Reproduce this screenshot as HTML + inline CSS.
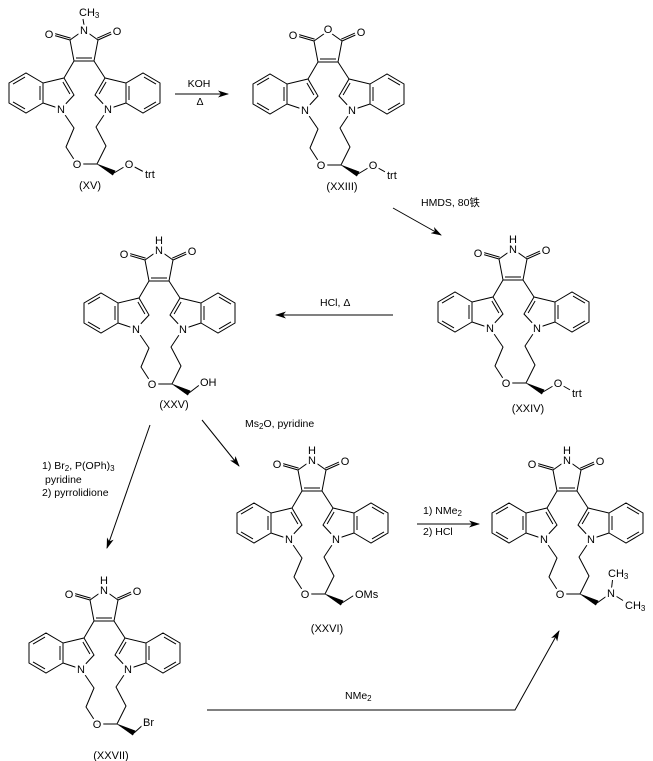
<!DOCTYPE html>
<html><head><meta charset="utf-8"><style>
html,body{margin:0;padding:0;background:#fff;}
svg{display:block;}
text{font-family:"Liberation Sans","Noto Sans CJK SC",sans-serif;font-size:11px;fill:#000;}
.a{text-anchor:middle;stroke:#fff;stroke-width:5px;paint-order:stroke;stroke-linejoin:round;}
.s{stroke:#fff;stroke-width:5px;paint-order:stroke;stroke-linejoin:round;}
.r{font-size:10.5px;}
</style></head><body>
<svg width="653" height="761" viewBox="0 0 653 761" xmlns="http://www.w3.org/2000/svg">
<defs>
<marker id="ah" markerWidth="11" markerHeight="7" refX="10" refY="3.5" orient="auto" markerUnits="userSpaceOnUse">
<path d="M0,0 L11,3.5 L0,7 L3,3.5 z" fill="#000"/>
</marker>
<g id="core" fill="none" stroke="#000" stroke-width="1">
<path d="M71,41 L85,31 L99,41 M71,41 L75,62 L95,62 L99,41 M77,59 L93,59
M71,41 L52,35.5 M71.6,39.1 L52.6,33.6 M99,41 L117,33 M98.2,39.2 L116.2,31.2
M75,62 L65,79 M95,62 L106,79
M65,79 L75,96 L62,110 L44,104 L44,84 Z M63.9,83 L70.9,95
M44,84 L27,74 L10,84 L10,104 L27,114 L44,104 M26,78.1 L14,85.1 M41,87 L41,101 M26,109.9 L14,102.9
M106,79 L96,96 L109,110 L127,104 L127,84 Z M107.1,83 L100.1,95
M127,84 L144,74 L161,84 L161,104 L144,114 L127,104 M145,78.1 L157,85.1 M130,87 L130,101 M145,109.9 L157,102.9
M62,110 L75,129 L67,148 L78,165 L98,165 M109,110 L97,128 L107,147 L98,165"/>
<polygon points="98,165 116.2,171.8 113.8,176.2" fill="#000" stroke="#000" stroke-width="0.5"/>
</g>
</defs>

<!-- (XV) -->
<g transform="translate(-1,-1)">
<use href="#core"/>
<path d="M85,26 L84,20 M115,174 L130,165 M130,165 L145,173" stroke="#000" fill="none"/>
<text x="80" y="17">CH<tspan font-size="8" dy="2">3</tspan></text>
<text class="a" x="85" y="35">N</text>
<text class="a" x="50" y="39">O</text>
<text class="a" x="118" y="36">O</text>
<text class="a" x="62" y="114">N</text>
<text class="a" x="109" y="114">N</text>
<text class="a" x="78" y="169">O</text>
<text class="a" x="130" y="169">O</text>
<text class="s" x="146" y="179">trt</text>
</g>
<text class="a" x="90" y="189">(XV)</text>

<!-- (XXIII) -->
<g transform="translate(243,0)">
<use href="#core"/>
<path d="M115,174 L130,165 M130,165 L144,173" stroke="#000" fill="none"/>
<text class="a" x="85" y="33">O</text>
<text class="a" x="50" y="39">O</text>
<text class="a" x="118" y="36">O</text>
<text class="a" x="62" y="114">N</text>
<text class="a" x="109" y="114">N</text>
<text class="a" x="78" y="169">O</text>
<text class="a" x="130" y="169">O</text>
<text class="s" x="144" y="179">trt</text>
</g>
<text class="a" x="342" y="190">(XXIII)</text>

<!-- (XXIV) -->
<g transform="translate(428,218)">
<use href="#core"/>
<path d="M115,174 L130,165 M130,165 L144,173" stroke="#000" fill="none"/>
<text class="a" x="85" y="25">H</text>
<text class="a" x="85" y="35">N</text>
<text class="a" x="50" y="39">O</text>
<text class="a" x="118" y="36">O</text>
<text class="a" x="62" y="114">N</text>
<text class="a" x="109" y="114">N</text>
<text class="a" x="78" y="169">O</text>
<text class="a" x="130" y="169">O</text>
<text class="s" x="144" y="179">trt</text>
</g>
<text class="a" x="528" y="412">(XXIV)</text>

<!-- (XXV) -->
<g transform="translate(74,219)">
<use href="#core"/>
<path d="M115,174 L128,164" stroke="#000" fill="none"/>
<text class="a" x="85" y="25">H</text>
<text class="a" x="85" y="35">N</text>
<text class="a" x="50" y="39">O</text>
<text class="a" x="118" y="36">O</text>
<text class="a" x="62" y="114">N</text>
<text class="a" x="109" y="114">N</text>
<text class="a" x="78" y="169">O</text>
<text class="s" x="126" y="167">OH</text>
</g>
<text class="a" x="174" y="408">(XXV)</text>

<!-- (XXVI) -->
<g transform="translate(227,429)">
<use href="#core"/>
<path d="M115,174 L129,165" stroke="#000" fill="none"/>
<text class="a" x="85" y="25">H</text>
<text class="a" x="85" y="35">N</text>
<text class="a" x="50" y="39">O</text>
<text class="a" x="118" y="36">O</text>
<text class="a" x="62" y="114">N</text>
<text class="a" x="109" y="114">N</text>
<text class="a" x="78" y="169">O</text>
<text class="s" x="128" y="169">OMs</text>
</g>
<text class="a" x="327" y="632">(XXVI)</text>

<!-- (XXVII) -->
<g transform="translate(19,559)">
<use href="#core"/>
<path d="M115,174 L126,164" stroke="#000" fill="none"/>
<text class="a" x="85" y="25">H</text>
<text class="a" x="85" y="35">N</text>
<text class="a" x="50" y="39">O</text>
<text class="a" x="118" y="36">O</text>
<text class="a" x="62" y="114">N</text>
<text class="a" x="109" y="114">N</text>
<text class="a" x="78" y="169">O</text>
<text class="s" x="124" y="167">Br</text>
</g>
<text class="a" x="111" y="759">(XXVII)</text>

<!-- final product -->
<g transform="translate(482,429)">
<use href="#core"/>
<path d="M115,174 L129,164 M129,164 L130.5,151 M129,164 L141,171.5" stroke="#000" fill="none"/>
<text class="a" x="85" y="25">H</text>
<text class="a" x="85" y="35">N</text>
<text class="a" x="50" y="39">O</text>
<text class="a" x="118" y="36">O</text>
<text class="a" x="62" y="114">N</text>
<text class="a" x="109" y="114">N</text>
<text class="a" x="78" y="169">O</text>
<text class="a" x="129" y="168">N</text>
<text x="126" y="148">CH<tspan font-size="8" dy="2">3</tspan></text>
<text x="143" y="180">CH<tspan font-size="8" dy="2">3</tspan></text>
</g>

<!-- arrows -->
<g stroke="#000" stroke-width="1" fill="none">
<line x1="175" y1="94" x2="228" y2="94" marker-end="url(#ah)"/>
<line x1="393" y1="208" x2="441" y2="235" marker-end="url(#ah)"/>
<line x1="393" y1="315" x2="276" y2="315" marker-end="url(#ah)"/>
<line x1="150" y1="425" x2="107" y2="548" marker-end="url(#ah)"/>
<line x1="202" y1="420" x2="239" y2="466" marker-end="url(#ah)"/>
<line x1="417" y1="524" x2="479" y2="524" marker-end="url(#ah)"/>
<polyline points="207,710 515,710 559,631" marker-end="url(#ah)"/>
</g>

<!-- reagents -->
<text class="r" x="199" y="87" text-anchor="middle">KOH</text>
<text class="r" x="200" y="105" text-anchor="middle">Δ</text>
<text class="r" x="421" y="206">HMDS, 80铁</text>
<text class="r" x="320" y="306">HCl, Δ</text>
<text class="r" x="42" y="469">1) Br<tspan font-size="8" dy="2">2</tspan><tspan dy="-2">, P(OPh)</tspan><tspan font-size="8" dy="2">3</tspan></text>
<text class="r" x="45" y="483">pyridine</text>
<text class="r" x="42" y="496">2) pyrrolidione</text>
<text class="r" x="245" y="427">Ms<tspan font-size="8" dy="2">2</tspan><tspan dy="-2">O, pyridine</tspan></text>
<text class="r" x="423" y="514">1) NMe<tspan font-size="8" dy="2">2</tspan></text>
<text class="r" x="423" y="535">2) HCl</text>
<text class="r" x="345" y="699">NMe<tspan font-size="8" dy="2">2</tspan></text>
</svg>
</body></html>
